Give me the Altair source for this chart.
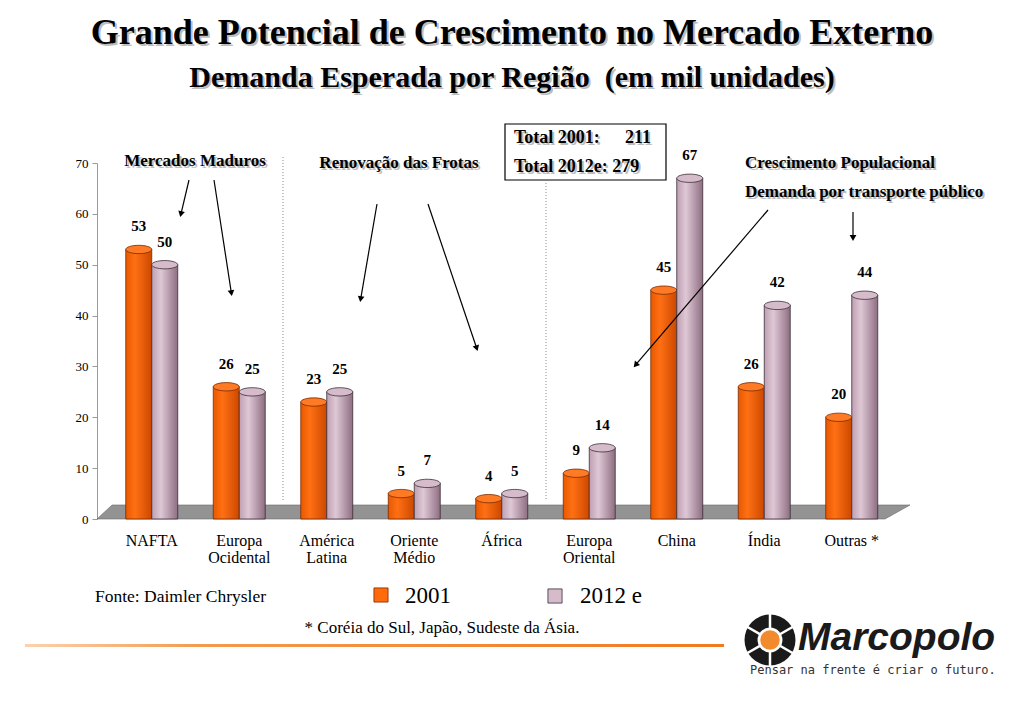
import math
import altair as alt
import pandas as pd

# ---------------- data ----------------
regioes = ["NAFTA", "Europa|Ocidental", "América|Latina", "Oriente|Médio", "África",
           "Europa|Oriental", "China", "Índia", "Outras *"]
valores_2001 = [53, 26, 23, 5, 4, 9, 45, 26, 20]
valores_2012 = [50, 25, 25, 7, 5, 14, 67, 42, 44]
series = ["2001", "2012 e"]
y_ticks = [0, 10, 20, 30, 40, 50, 60, 70]

rows = []
for r, a, b in zip(regioes, valores_2001, valores_2012):
    rows.append({"regiao": r, "serie": series[0], "valor": a})
    rows.append({"regiao": r, "serie": series[1], "valor": b})
df = pd.DataFrame(rows)

# ---------------- layout helpers ----------------
OX, OY = 108, 163          # page position of the plot origin
W, H = 787.5, 356
SERIF = "Liberation Serif"
dummy = pd.DataFrame({"k": [0]})


def X(px):
    return alt.value(px - OX)


def Y(py):
    return alt.value(py - OY)


def txt(s, x, y, size, weight="normal", align="center", color="black",
        shadow=False, font=SERIF, italic=False):
    kw = dict(text=s, fontSize=size, fontWeight=weight, align=align,
              baseline="middle", font=font)
    if italic:
        kw["fontStyle"] = "italic"
    out = []
    if shadow:
        out.append(alt.Chart(dummy).mark_text(color="#bdbdbd", **kw)
                   .encode(x=X(x + 2), y=Y(y + 2)))
    out.append(alt.Chart(dummy).mark_text(color=color, **kw).encode(x=X(x), y=Y(y)))
    return out


def arrow(x1, y1, x2, y2, w=1.2):
    dx, dy = x2 - x1, y2 - y1
    ang = math.degrees(math.atan2(dx, -dy)) % 360
    L = math.hypot(dx, dy)
    hx, hy = x2 - dx / L * 4, y2 - dy / L * 4
    return [
        alt.Chart(dummy).mark_rule(color="black", strokeWidth=w)
        .encode(x=X(x1), y=Y(y1), x2=X(hx), y2=Y(hy)),
        alt.Chart(dummy).mark_point(shape="triangle-up", filled=True, size=45,
                                    color="black", opacity=1, angle=ang)
        .encode(x=X(hx), y=Y(hy)),
    ]


def grad(c0, c1, c2):
    return alt.LinearGradient(
        gradient="linear", x1=0, x2=1, y1=0, y2=0,
        stops=[alt.GradientStop(offset=0, color=c0),
               alt.GradientStop(offset=0.35, color=c1),
               alt.GradientStop(offset=1, color=c2)])


ORANGE = grad("#E85800", "#FF7014", "#CC4800")
PINK = grad("#BE9FB2", "#DFC8D6", "#8E6E82")
ELLIPSE = "M-1,0A1,0.32,0,1,0,1,0A1,0.32,0,1,0,-1,0Z"
FLOOR = "M-1,0.0172L0.9385,0.0172L1,-0.0172L-0.963,-0.0172Z"

layers = []

# floor
layers.append(alt.Chart(dummy).mark_point(shape=FLOOR, filled=True, size=660969,
                                          fill="#939393", stroke="#6a6a6a",
                                          strokeWidth=0.6, opacity=1)
              .encode(x=X(503.5), y=Y(512)))

# dotted separators
for (sx, sy0, sy1) in [(283, 157, 500), (546, 183, 500)]:
    layers.append(alt.Chart(dummy).mark_rule(color="#8c8c8c", strokeDash=[1, 2],
                                             strokeWidth=1)
                  .encode(x=X(sx), y=Y(sy0), y2=Y(sy1)))

# ---------------- bars ----------------
base = alt.Chart(df).encode(
    x=alt.X("regiao:N", sort=regioes,
            scale=alt.Scale(paddingInner=0.406, paddingOuter=0.203),
            axis=alt.Axis(title=None, domain=False, ticks=False, labelAngle=0,
                          labelExpr="split(datum.label, '|')",
                          labelFont=SERIF, labelFontSize=16, labelColor="black",
                          labelPadding=13, labelLineHeight=17)),
    xOffset=alt.XOffset("serie:N", scale=alt.Scale(domain=series, paddingInner=0,
                                                    paddingOuter=0)),
    y=alt.Y("valor:Q", scale=alt.Scale(domain=[0, 70], nice=False),
            axis=alt.Axis(title=None, values=y_ticks, grid=False, offset=11,
                          domainColor="#9a9a9a", tickColor="#9a9a9a", tickSize=5,
                          labelFont=SERIF, labelFontSize=13, labelColor="black",
                          labelPadding=4)),
)

for serie, fill, cap, stroke in [(series[0], ORANGE, "#FF7A24", "#7a2a00"),
                                 (series[1], PINK, "#D6BCCB", "#3a2d36")]:
    sub = base.transform_filter(alt.datum.serie == serie)
    layers.append(sub.mark_bar(color=fill, stroke=stroke, strokeWidth=0.8))
    layers.append(sub.mark_point(shape=ELLIPSE, filled=True, size=676, fill=cap,
                                 stroke=stroke, strokeWidth=0.8, opacity=1))
    layers.append(sub.mark_text(dy=-23, font=SERIF, fontSize=15, fontWeight="bold",
                                color="black")
                  .encode(text="valor:Q"))

# ---------------- annotations ----------------
layers += txt("Grande Potencial de Crescimento no Mercado Externo", 512, 33, 36,
              weight="bold", shadow=True)
layers += txt("Demanda Esperada por Região\u00a0\u00a0(em mil unidades)", 512, 78, 30,
              weight="bold", shadow=True)
layers += txt("Mercados Maduros", 195, 161, 17, weight="bold", shadow=True)
layers += txt("Renovação das Frotas", 399, 163, 17, weight="bold", shadow=True)
layers += txt("Crescimento Populacional", 745, 163, 17, weight="bold", align="left",
              shadow=True)
layers += txt("Demanda por transporte público", 745, 192, 17, weight="bold",
              align="left", shadow=True)

# totals box
layers.append(alt.Chart(dummy).mark_rect(fill="white", stroke="black", strokeWidth=1.2)
              .encode(x=X(505), x2=X(666), y=Y(124), y2=Y(180)))
layers += txt("Total 2001:", 514, 138, 18, weight="bold", align="left", shadow=True)
layers += txt("211", 651, 138, 18, weight="bold", align="right", shadow=True)
layers += txt("Total 2012e: 279", 514, 167, 18, weight="bold", align="left", shadow=True)

# arrows
layers += arrow(189, 180, 180, 218)
layers += arrow(214, 180, 232, 297)
layers += arrow(377, 204, 360, 303)
layers += arrow(428, 204, 478, 352)
layers += arrow(768, 210, 633, 368)
layers += arrow(853, 212, 853, 242)

# footer + legend
layers += txt("Fonte: Daimler Chrysler", 95, 597, 17.5, align="left")
layers.append(alt.Chart(dummy).mark_point(shape="square", filled=True, size=200,
                                          fill="#FF6A0A", stroke="#7a2a00",
                                          strokeWidth=0.8, opacity=1)
              .encode(x=X(381), y=Y(595)))
layers += txt("2001", 405, 596, 23, align="left")
layers.append(alt.Chart(dummy).mark_point(shape="square", filled=True, size=200,
                                          fill="#D6BCCB", stroke="#3a2d36",
                                          strokeWidth=0.8, opacity=1)
              .encode(x=X(555), y=Y(596)))
layers += txt("2012 e", 580, 596, 23, align="left")
layers += txt("* Coréia do Sul, Japão, Sudeste da Ásia.", 442, 628, 17)

# orange line
layers.append(alt.Chart(dummy).mark_rect(color=alt.LinearGradient(
    gradient="linear", x1=0, x2=1, y1=0, y2=0,
    stops=[alt.GradientStop(offset=0, color="#FBD2B0"),
           alt.GradientStop(offset=0.25, color="#F39A4E"),
           alt.GradientStop(offset=1, color="#F07A20")]))
    .encode(x=X(25), x2=X(724), y=Y(644), y2=Y(647)))

# logo
layers.append(alt.Chart(dummy).mark_point(shape="circle", filled=True, size=2600,
                                          color="#1a1a1a", opacity=1)
              .encode(x=X(770), y=Y(640)))
for a in [30, 90, 150]:
    r = 30
    dx, dy = r * math.cos(math.radians(a)), r * math.sin(math.radians(a))
    layers.append(alt.Chart(dummy).mark_rule(color="white", strokeWidth=2.5)
                  .encode(x=X(770 - dx), y=Y(640 - dy), x2=X(770 + dx), y2=Y(640 + dy)))
layers.append(alt.Chart(dummy).mark_point(shape="circle", filled=True, size=620,
                                          color="white", opacity=1)
              .encode(x=X(770), y=Y(640)))
layers.append(alt.Chart(dummy).mark_point(shape="circle", filled=True, size=380,
                                          color="#F28A2E", opacity=1)
              .encode(x=X(770), y=Y(640)))
layers += txt("Marcopolo", 798, 638, 39, weight="bold", align="left",
              font="Liberation Sans", italic=True, color="#1a1a1a")
layers += txt("Pensar na frente é criar o futuro.", 750, 670, 12, align="left",
              font="DejaVu Sans Mono", color="#333333")

chart = alt.layer(*layers).properties(
    width=W, height=H,
    autosize=alt.AutoSizeParams(type="none"),
    padding={"left": 100, "top": 155, "right": 119, "bottom": 181},
    background="white",
).configure_view(stroke=None)

chart.save("out.html", embed_options={"renderer": "svg", "actions": False})
